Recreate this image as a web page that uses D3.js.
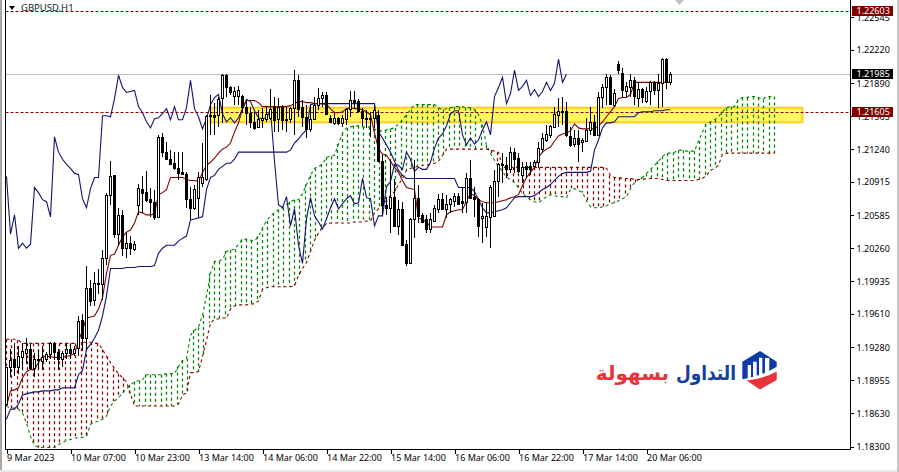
<!DOCTYPE html>
<html><head><meta charset="utf-8">
<script src="https://cdn.jsdelivr.net/npm/d3@7"></script>
<style>html,body{margin:0;padding:0;background:#fff}svg{display:block}text{font-family:"Noto Sans",sans-serif}</style>
</head><body><svg id="c" width="899" height="472"></svg>
<script>
// All series are in pips above 1.18000, one value per hourly bar
const base = 1.18;
const openP = [72,109,117,109,118,122,126,108,117,115,117,121,132,123,117,122,126,122,127,155,137,187,175,192,191,216,279,298,240,259,226,231,225,269,285,282,275,272,257,336,321,314,310,305,301,299,275,266,276,291,294,358,358,358,375,397,385,377,377,377,366,360,351,346,353,354,355,366,354,366,354,354,365,392,366,356,344,354,368,375,378,355,350,355,350,354,364,373,372,362,355,354,355,358,312,269,266,277,248,265,230,211,255,276,259,255,245,253,265,275,265,270,273,278,273,272,295,277,275,256,247,257,258,292,309,308,304,321,315,298,307,307,307,311,324,333,338,346,358,361,362,337,329,335,331,332,343,351,338,376,385,395,368,408,399,381,385,392,375,383,372,381,390,382,389,413,390];
const highP = [109,126,132,129,132,137,131,122,125,129,123,133,133,126,124,131,131,129,159,161,208,195,203,205,224,281,312,298,266,264,242,238,233,290,297,302,286,284,338,340,331,323,321,321,321,301,287,289,301,330,358,378,370,376,398,398,386,385,386,378,373,366,361,363,365,366,383,376,375,368,366,366,402,397,373,368,368,376,384,380,380,358,360,356,358,365,381,381,374,365,363,361,368,363,318,277,313,294,274,272,234,256,313,289,261,259,261,269,280,281,279,276,281,281,287,300,313,287,276,271,271,289,303,310,320,316,326,325,320,311,311,311,313,331,340,348,348,366,375,376,371,346,343,343,335,355,366,358,380,388,398,397,383,411,404,390,398,395,390,384,385,391,391,398,414,414,400];
const lowP = [70,99,100,102,106,112,106,99,107,106,114,117,116,106,109,117,117,119,119,124,126,169,169,181,175,209,269,236,229,218,216,219,223,259,261,272,257,254,257,316,313,308,303,293,298,266,254,264,257,287,292,338,338,346,350,376,378,368,368,360,348,345,343,345,345,351,353,341,341,343,341,350,338,356,346,335,341,353,363,366,359,350,348,348,346,348,356,364,360,347,345,336,345,311,259,259,241,247,239,228,208,211,236,251,251,241,241,252,261,264,256,261,267,269,261,261,276,257,237,231,237,226,257,277,291,295,300,300,300,291,295,298,306,305,320,331,335,346,346,348,336,326,326,311,321,331,338,337,337,365,368,368,366,398,376,376,376,368,366,370,370,368,378,365,366,383,387];
const closeP = [109,116,109,119,124,126,108,117,116,118,121,132,123,117,122,126,122,126,154,137,187,174,192,191,216,279,297,240,259,226,231,226,230,286,281,274,272,257,336,321,314,309,305,300,299,275,266,285,296,296,357,357,356,374,397,385,380,381,382,366,360,351,345,354,355,359,364,353,366,353,353,365,392,364,356,344,354,368,375,378,359,351,355,350,355,364,373,371,362,355,354,355,363,312,269,266,277,248,265,229,211,255,276,258,252,245,255,266,275,265,270,275,278,270,271,295,276,275,248,258,258,287,292,309,308,304,321,314,302,306,304,304,311,325,335,339,347,359,362,362,338,328,335,329,333,343,351,338,376,385,395,369,379,402,382,386,392,377,383,376,381,390,382,389,413,390,398];
const tenkanP = [70,85,86,88,98,104,106,106,113,119,119,119,118,118,118,119,120,122,134,145,157,158,159,166,177,201,219,220,229,237,242,244,251,262,261,259,259,260,279,281,284,296,296,296,296,294,293,293,292,301,308,311,315,320,324,326,330,341,350,364,372,372,372,370,366,366,366,366,366,366,366,367,369,371,371,370,370,369,369,369,368,364,360,360,361,364,365,364,364,363,361,358,340,324,319,318,312,306,301,293,286,285,284,256,254,252,247,247,247,247,259,262,263,264,264,273,280,278,274,272,271,271,271,272,273,274,276,277,279,288,296,301,306,316,321,324,326,332,337,339,340,342,349,345,344,344,344,344,347,351,356,361,366,374,375,375,378,390,390,390,390,390,390,390,390,390,390];
const kijunP = [57,67,67,72,81,82,83,84,84,85,85,85,86,86,88,88,88,88,101,105,126,131,137,145,159,179,206,206,206,206,207,207,207,208,208,208,208,209,221,226,229,229,229,233,236,238,254,255,256,257,284,296,298,304,307,310,310,314,321,321,321,321,321,321,321,321,321,321,321,321,321,323,330,334,339,343,368,369,369,369,369,369,369,369,369,369,369,369,369,369,369,369,369,341,335,328,321,312,303,298,295,295,295,295,295,295,295,295,295,295,295,295,295,286,286,286,286,282,274,266,261,261,262,263,264,266,271,276,277,277,277,277,278,281,284,286,289,293,297,300,301,301,301,301,301,301,302,323,333,345,350,350,351,356,356,356,356,356,360,361,361,361,362,362,362,363,363];
const spanAP = [70,68,68,67,63,53,40,31,29,29,29,29,29,32,34,36,37,38,39,39,40,52,54,55,57,60,70,75,78,83,87,91,94,95,96,101,101,101,101,101,102,102,102,109,115,117,140,145,148,160,179,201,213,213,215,223,224,225,230,235,235,234,233,238,246,253,258,261,264,266,269,272,274,274,280,289,298,305,307,309,316,317,318,329,340,345,346,347,347,346,346,346,344,342,342,343,344,345,349,353,358,363,368,368,368,368,368,368,365,363,364,365,366,366,366,365,365,363,358,348,328,320,313,307,302,296,294,291,286,280,277,274,272,271,274,277,279,278,277,277,276,284,285,283,281,273,267,266,266,267,268,270,271,273,275,277,285,291,294,296,300,304,308,312,317,320,320,321,323,323,322,322,322,332,341,349,351,353,356,361,365,366,366,373,375,375,376,376,375,373,376,376,376];
const spanBP = [136,136,136,135,132,132,132,132,132,132,132,132,132,132,132,132,132,132,133,133,133,133,132,132,126,119,113,107,102,98,94,82,70,70,70,70,70,70,70,70,70,70,70,72,81,83,103,103,104,119,135,152,156,156,157,157,166,169,170,170,170,171,171,174,185,187,188,188,188,188,188,188,189,199,206,212,223,234,241,247,250,251,251,251,251,251,251,252,252,252,253,253,261,265,269,273,278,282,289,295,303,305,306,307,308,308,309,310,312,318,324,324,324,324,324,324,324,324,324,324,324,323,322,321,306,306,306,306,306,306,306,306,306,306,306,306,306,306,306,306,306,306,306,306,306,306,306,306,306,306,305,298,296,296,295,295,295,294,294,294,295,295,295,295,294,293,293,293,293,293,293,293,293,294,295,298,303,305,308,319,320,320,320,320,320,320,320,320,320,320,320,320,320];
const priceTicks = [1.22545,1.2222,1.2189,1.21565,1.2124,1.20915,1.20585,1.2026,1.19935,1.1961,1.1928,1.18955,1.1863,1.183];
const timeTickBars = [0,16,32,48,64,80,96,112,128,144,160];
const timeLabels = ["9 Mar 2023","10 Mar 07:00","10 Mar 23:00","13 Mar 14:00","14 Mar 06:00","14 Mar 22:00","15 Mar 14:00","16 Mar 06:00","16 Mar 22:00","17 Mar 14:00","20 Mar 06:00"];
const levels = [1.22603,1.21605];
const lastPrice = 1.21985;
const zoneTop = 1.2165, zoneBottom = 1.21505, zoneStartBar = 51, zoneEndBar = 199;
const title = "GBPUSD,H1";

const toPrice = p => base + p/10000;
const W=899,H=472,plotL=5.5,plotR=850.5,plotB=449.5;
const x = d3.scaleLinear().domain([0,1]).range([6.5,10.5]);
const y = d3.scaleLinear().domain([1.183,1.2222]).range([446.5,50]);
const svg = d3.select("#c");

svg.append("rect").attr("width",W).attr("height",H).attr("fill","#fff");
// window chrome
svg.append("rect").attr("x",0).attr("y",0).attr("width",2).attr("height",H).attr("fill","#a9a9a9");
svg.append("rect").attr("x",0).attr("y",470).attr("width",W).attr("height",2).attr("fill","#e8e8e8");
svg.append("rect").attr("x",897).attr("y",0).attr("width",2).attr("height",H).attr("fill","#c8c8c8");

// zone
svg.append("rect").attr("x",x(zoneStartBar)).attr("width",x(zoneEndBar)-x(zoneStartBar))
  .attr("y",y(zoneTop)).attr("height",y(zoneBottom)-y(zoneTop))
  .attr("fill","#fff95e").attr("stroke","#ffcc22").attr("stroke-width",2);

// levels
svg.append("line").attr("x1",plotL).attr("x2",plotR).attr("y1",Math.round(y(lastPrice))+.5).attr("y2",Math.round(y(lastPrice))+.5).attr("stroke","#bdbdbd");
svg.selectAll(".lvl").data(levels).join("line").attr("x1",plotL).attr("x2",plotR)
  .attr("y1",d=>Math.round(y(d))+.5).attr("y2",d=>Math.round(y(d))+.5)
  .attr("stroke","#8b0000").attr("stroke-dasharray","3,2");

// cloud hatch: one dashed column per 4/3 bar, taken from the nearest bar
const GREEN="#008000", RED="#8b0000";
const hatch = d3.range(0,spanAP.length-0.5,4/3);
svg.append("g").selectAll("line").data(hatch).join("line")
  .attr("x1",b=>Math.floor(x(b))+.5).attr("x2",b=>Math.floor(x(b))+.5)
  .attr("y1",b=>y(toPrice(Math.max(spanAP[Math.round(b)],spanBP[Math.round(b)]))))
  .attr("y2",b=>y(toPrice(Math.min(spanAP[Math.round(b)],spanBP[Math.round(b)]))))
  .attr("stroke",b=>spanAP[Math.round(b)]>=spanBP[Math.round(b)]?GREEN:RED)
  .attr("stroke-width",1.25).attr("stroke-dasharray","3,3");
const ln = d3.line().x((d,i)=>x(i)).y(d=>y(toPrice(d)));
svg.append("path").attr("d",ln(spanAP)).attr("fill","none").attr("stroke",GREEN).attr("stroke-width",1.1).attr("stroke-dasharray","3,3");
svg.append("path").attr("d",ln(spanBP)).attr("fill","none").attr("stroke",RED).attr("stroke-width",1.1).attr("stroke-dasharray","3,3");

// ichimoku lines
svg.append("path").attr("d",ln(closeP.slice(26))).attr("fill","none").attr("stroke","#14146e").attr("stroke-width",1.1);
svg.append("path").attr("d",ln(kijunP)).attr("fill","none").attr("stroke","#14146e").attr("stroke-width",1.1);
svg.append("path").attr("d",ln(tenkanP)).attr("fill","none").attr("stroke","#800000").attr("stroke-width",1.1);

// candles
const bars = d3.range(openP.length);
const gc = svg.append("g").attr("shape-rendering","crispEdges");
gc.selectAll("line").data(bars).join("line")
  .attr("x1",i=>x(i)).attr("x2",i=>x(i))
  .attr("y1",i=>y(toPrice(highP[i]))).attr("y2",i=>y(toPrice(lowP[i]))).attr("stroke","#000");
gc.selectAll("rect").data(bars).join("rect")
  .attr("x",i=>x(i)-1).attr("width",2)
  .attr("y",i=>Math.round(y(toPrice(Math.max(openP[i],closeP[i]))))+.5)
  .attr("height",i=>Math.max(1,Math.round(y(toPrice(Math.min(openP[i],closeP[i]))))-Math.round(y(toPrice(Math.max(openP[i],closeP[i]))))))
  .attr("fill",i=>closeP[i]>=openP[i]?"#fff":"#000").attr("stroke","#000");

// axes frame
svg.append("line").attr("x1",plotL).attr("x2",plotL).attr("y1",0).attr("y2",plotB).attr("stroke","#000");
svg.append("line").attr("x1",plotL).attr("x2",plotR).attr("y1",plotB).attr("y2",plotB).attr("stroke","#000");
svg.append("line").attr("x1",plotR).attr("x2",plotR).attr("y1",0).attr("y2",plotB).attr("stroke","#000");

// bottom axis
const axB = svg.append("g").attr("transform",`translate(0,${plotB})`)
  .call(d3.axisBottom(x).tickValues(timeTickBars).tickSize(4).tickSizeOuter(0).tickFormat((d,i)=>timeLabels[i]));
axB.select(".domain").remove();
axB.selectAll(".tick line").attr("stroke","#000").attr("shape-rendering","crispEdges");
axB.selectAll("text").attr("text-anchor","start").attr("x",0).attr("y",5).attr("fill","#000").style("font-size","9px").style("font-family",'"Noto Sans",sans-serif');

// right axis
const axR = svg.append("g").attr("transform",`translate(${plotR},0)`)
  .call(d3.axisRight(y).tickValues(priceTicks).tickSize(3).tickSizeOuter(0).tickFormat(d3.format(".5f")));
axR.select(".domain").remove();
axR.selectAll(".tick line").attr("stroke","#000").attr("shape-rendering","crispEdges");
axR.selectAll("text").attr("x",6).attr("fill","#000").style("font-size","9px").style("font-family",'"Noto Sans",sans-serif');

// price tags
const tags=[[levels[0],"#800000"],[levels[1],"#800000"],[lastPrice,"#000"]];
tags.forEach(([p,c])=>{
  const yy=y(p);
  svg.append("rect").attr("x",852).attr("y",Math.round(yy)-5).attr("width",41).attr("height",10).attr("fill",c);
  svg.append("text").attr("x",856.5).attr("y",yy).attr("dy","0.35em").attr("fill","#fff").style("font-size","9px").text(d3.format(".5f")(p));
});

// title
svg.append("path").attr("d","M9,6H15L12,10Z").attr("fill","#000");
svg.append("text").attr("x",21).attr("y",8).attr("dy","0.35em").attr("fill","#1a1a2e").style("font-size","9.5px").text(title);
// gray marker at the top
svg.append("path").attr("d","M675,0H684L679.5,5Z").attr("fill","#c0c0c0");

// logo
const logo = svg.append("g");
logo.append("path").attr("d","M760,351L776.7,361.7V366.7Q762,376 742.3,379.3V361.7Z").attr("fill","#0f3ba8");
logo.append("path").attr("d","M746.7,380.5Q764,378.5 776.7,371.5V380L760,389.5Z").attr("fill","#e8333c");
[[747.7,365,3.3,13],[753,361.7,3.7,16],[759,357.7,3.3,18],[765,358,4.3,15]].forEach(r=>
  logo.append("rect").attr("x",r[0]).attr("y",r[1]).attr("width",r[2]).attr("height",r[3]).attr("fill","#fff"));
logo.append("text").attr("transform","translate(736,380) scale(.85,1)").attr("text-anchor","start").attr("direction","rtl")
  .style("font-family",'"DejaVu Sans",sans-serif').style("font-size","20px").style("font-weight","bold").attr("fill","#12409f").text("التداول");
logo.append("text").attr("x",669).attr("y",380).attr("text-anchor","start").attr("direction","rtl")
  .style("font-family",'"DejaVu Sans",sans-serif').style("font-size","20px").style("font-weight","bold").attr("fill","#e8333c").text("بسهولة");
</script></body></html>
